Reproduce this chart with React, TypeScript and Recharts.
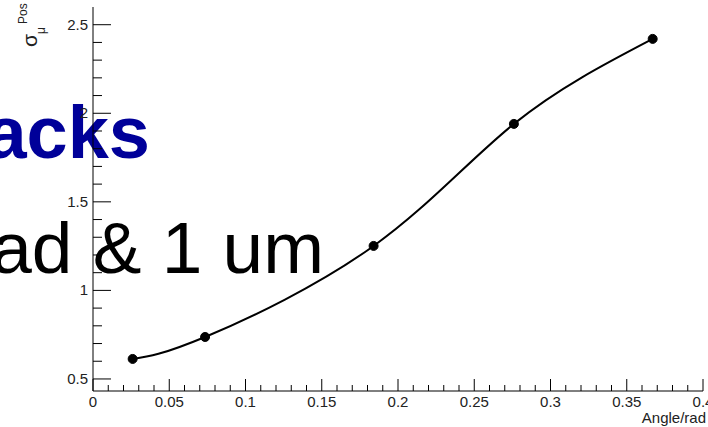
import { LineChart, Line, XAxis, YAxis } from 'recharts'

const angles = [0.026, 0.0735, 0.184, 0.276, 0.367]
const sigmaPos = [0.613, 0.737, 1.251, 1.94, 2.42]

const xTicks = [
  0, 0.01, 0.02, 0.03, 0.04, 0.05, 0.06, 0.07, 0.08, 0.09,
  0.1, 0.11, 0.12, 0.13, 0.14, 0.15, 0.16, 0.17, 0.18, 0.19,
  0.2, 0.21, 0.22, 0.23, 0.24, 0.25, 0.26, 0.27, 0.28, 0.29,
  0.3, 0.31, 0.32, 0.33, 0.34, 0.35, 0.36, 0.37, 0.38, 0.39, 0.4,
]
const xLabels = ['0', '0.05', '0.1', '0.15', '0.2', '0.25', '0.3', '0.35', '0.4']

const yTicks = [
  0.5, 0.6, 0.7, 0.8, 0.9, 1, 1.1, 1.2, 1.3, 1.4, 1.5,
  1.6, 1.7, 1.8, 1.9, 2, 2.1, 2.2, 2.3, 2.4, 2.5,
]
const yLabels = ['0.5', '1', '1.5', '2', '2.5']

const data = angles.map((x, i) => ({ x, y: sigmaPos[i] }))

const font = '"Liberation Sans", Arial, sans-serif'

function fmt(v: number) {
  return String(Math.round(v * 1000) / 1000)
}

// ROOT style: ticks point into the frame, labels outside
function XTick(props: any) {
  const { x, y, payload } = props
  const label = fmt(payload.value)
  const major = xLabels.includes(label)
  return (
    <g>
      <line x1={x} x2={x} y1={y} y2={y - (major ? 12 : 6)} stroke="#000" />
      {major && (
        <text x={x} y={y + 16} textAnchor="middle" fontSize={15} fontFamily={font} fill="#222">
          {label}
        </text>
      )}
    </g>
  )
}

function YTick(props: any) {
  const { x, y, payload } = props
  const label = fmt(payload.value)
  const major = yLabels.includes(label)
  return (
    <g>
      <line x1={x} x2={x + (major ? 18 : 9)} y1={y} y2={y} stroke="#000" />
      {major && (
        <text x={x - 5} y={y + 5} textAnchor="end" fontSize={15} fontFamily={font} fill="#222">
          {label}
        </text>
      )}
    </g>
  )
}

export default function App() {
  return (
    <div style={{ position: 'absolute', left: 0, top: 0, width: 708, height: 427, background: '#fff' }}>
      <svg width={708} height={427} style={{ position: 'absolute', left: 0, top: 0 }}>
        <text x={150} y={158} textAnchor="end" fontSize={74} fontWeight="bold" fontFamily={font} fill="#000099">
          acks
        </text>
        <text x={324} y={273} textAnchor="end" fontSize={73} fontFamily={font} fill="#000">
          ad &amp; 1 um
        </text>
        <g transform="translate(37, 47) rotate(-90)" fontFamily={font} fill="#222">
          <text x={0} y={0} fontSize={21}>σ</text>
          <text x={13} y={8} fontSize={12}>μ</text>
          <text x={23} y={-10} fontSize={12}>Pos</text>
        </g>
        <text x={706} y={423} textAnchor="end" fontSize={15} fontFamily={font} fill="#222">
          Angle/rad
        </text>
      </svg>
      <div style={{ position: 'absolute', left: 0, top: 0 }}>
        <LineChart width={708} height={427} data={data} margin={{ top: 7, right: 5, bottom: 0, left: 0 }}>
          <XAxis
            dataKey="x"
            type="number"
            domain={[0, 0.4]}
            ticks={xTicks}
            interval={0}
            height={36}
            tickSize={0.001}
            tickMargin={0}
            tickLine={false}
            axisLine={{ stroke: '#000' }}
            tick={XTick}
          />
          <XAxis
            xAxisId="top"
            orientation="top"
            dataKey="x"
            type="number"
            domain={[0, 0.4]}
            height={0}
            tick={false}
            tickLine={false}
            axisLine={{ stroke: '#000' }}
          />
          <YAxis
            type="number"
            domain={[0.432, 2.6]}
            ticks={yTicks}
            interval={0}
            width={93}
            tickSize={0.001}
            tickMargin={0}
            tickLine={false}
            axisLine={{ stroke: '#000' }}
            tick={YTick}
            allowDataOverflow
          />
          <YAxis
            yAxisId="right"
            orientation="right"
            type="number"
            domain={[0.432, 2.6]}
            width={0}
            tick={false}
            tickLine={false}
            axisLine={{ stroke: '#000' }}
          />
          <Line
            dataKey="y"
            type="natural"
            stroke="#000"
            strokeWidth={2}
            dot={{ r: 4.5, fill: '#000', stroke: '#000', strokeWidth: 1 }}
            isAnimationActive={false}
          />
        </LineChart>
      </div>
    </div>
  )
}
